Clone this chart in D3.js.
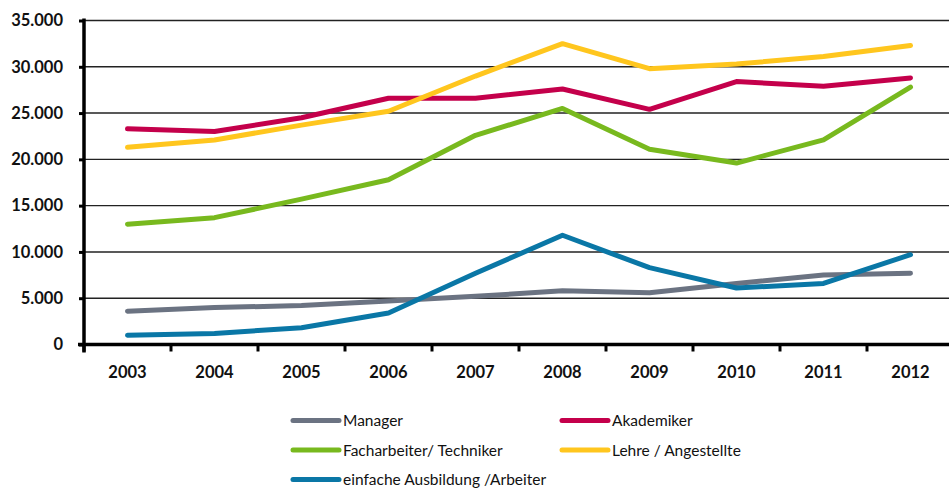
<!DOCTYPE html>
<html>
<head>
<meta charset="utf-8">
<script src="https://cdn.jsdelivr.net/npm/d3@7"></script>
<style>
  html, body { margin: 0; padding: 0; background: #fff; }
  svg { display: block; }
  text { font-family: Lato, "Open Sans", sans-serif; }
</style>
</head>
<body>
<svg id="chart" width="949" height="489"></svg>
<script>
// Years on the category axis
const years = ["2003", "2004", "2005", "2006", "2007", "2008", "2009", "2010", "2011", "2012"];

// Series values per year
const manager      = [3600, 4000, 4200, 4700, 5200, 5800, 5600, 6600, 7500, 7700];
const akademiker   = [23300, 23000, 24500, 26600, 26600, 27600, 25400, 28400, 27900, 28800];
const facharbeiter = [13000, 13700, 15700, 17800, 22600, 25500, 21100, 19600, 22100, 27800];
const lehre        = [21300, 22100, 23700, 25200, 29000, 32500, 29800, 30300, 31100, 32300];
const einfache     = [1000, 1200, 1800, 3400, 7700, 11800, 8300, 6100, 6600, 9700];

// Y axis tick values and their labels
const yTicks = [0, 5000, 10000, 15000, 20000, 25000, 30000, 35000];
const yTickLabels = ["0", "5.000", "10.000", "15.000", "20.000", "25.000", "30.000", "35.000"];

const seriesNames = ["Manager", "Akademiker", "Facharbeiter/ Techniker", "Lehre / Angestellte", "einfache Ausbildung /Arbeiter"];
const seriesValues = [manager, akademiker, facharbeiter, lehre, einfache];
const seriesColors = ["#6b7382", "#c4004b", "#78b91e", "#ffc61e", "#0a77a6"];

const svg = d3.select("#chart");
const plotLeft = 84, plotTop = 20.5, plotW = 870, plotH = 324;

const x = d3.scaleBand().domain(years).range([plotLeft, plotLeft + plotW]);
const y = d3.scaleLinear().domain([0, 35000]).range([plotTop + plotH, plotTop]);

// Horizontal gridlines
svg.append("g")
  .selectAll("line")
  .data(yTicks.filter(d => d > 0))
  .join("line")
  .attr("x1", plotLeft).attr("x2", plotLeft + plotW)
  .attr("y1", d => y(d)).attr("y2", d => y(d))
  .attr("stroke", "#222").attr("stroke-width", 1.4);

// Y axis
const yAxis = svg.append("g")
  .attr("transform", `translate(${plotLeft},0)`)
  .call(d3.axisLeft(y).tickValues(yTicks)
    .tickFormat((d, i) => yTickLabels[i]).tickSize(5).tickPadding(16));
yAxis.select(".domain").remove();
yAxis.selectAll(".tick line").attr("stroke", "#000").attr("stroke-width", 3);
yAxis.selectAll(".tick text")
  .attr("fill", "#111").attr("font-size", 16.5).attr("font-weight", "bold");
svg.append("line")
  .attr("x1", plotLeft).attr("x2", plotLeft)
  .attr("y1", plotTop - 2).attr("y2", plotTop + plotH + 8)
  .attr("stroke", "#000").attr("stroke-width", 3.5);

// X axis with tick marks on category boundaries
const xAxis = svg.append("g")
  .attr("transform", `translate(0,${plotTop + plotH})`);
xAxis.append("line")
  .attr("x1", plotLeft - 6).attr("x2", plotLeft + plotW)
  .attr("stroke", "#000").attr("stroke-width", 3.5);
xAxis.selectAll("line.tick")
  .data(years)
  .join("line")
  .attr("class", "tick")
  .attr("x1", d => x(d)).attr("x2", d => x(d))
  .attr("y1", 0).attr("y2", 7)
  .attr("stroke", "#000").attr("stroke-width", 3);
xAxis.selectAll("text")
  .data(years)
  .join("text")
  .attr("x", d => x(d) + x.bandwidth() / 2)
  .attr("y", 33)
  .attr("text-anchor", "middle")
  .attr("font-size", 16.5).attr("font-weight", "bold").attr("fill", "#111")
  .text(d => d);

// Lines
const line = d3.line()
  .x((d, i) => x(years[i]) + x.bandwidth() / 2)
  .y(d => y(d));

svg.append("g")
  .selectAll("path")
  .data(seriesValues)
  .join("path")
  .attr("d", d => line(d))
  .attr("fill", "none")
  .attr("stroke", (d, i) => seriesColors[i])
  .attr("stroke-width", 5)
  .attr("stroke-linecap", "round")
  .attr("stroke-linejoin", "round");

// Legend
const legendPos = [[293, 420.5], [562, 420.5], [293, 450], [562, 450], [293, 479.5]];
const legend = svg.append("g");
seriesNames.forEach((name, i) => {
  const [lx, ly] = legendPos[i];
  legend.append("line")
    .attr("x1", lx).attr("x2", lx + 46)
    .attr("y1", ly).attr("y2", ly)
    .attr("stroke", seriesColors[i]).attr("stroke-width", 5)
    .attr("stroke-linecap", "round");
  legend.append("text")
    .attr("x", lx + 50).attr("y", ly)
    .attr("dy", "0.36em")
    .attr("font-size", 15.5).attr("fill", "#111")
    .text(name);
});
</script>
</body>
</html>
